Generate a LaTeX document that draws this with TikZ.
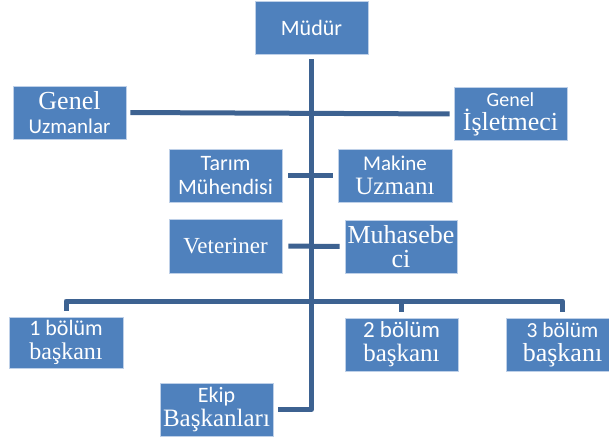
\documentclass[tikz,border=0pt]{standalone}
\usepackage{fontspec}
\usepackage{tikz}
\newfontfamily\calibrifont{Carlito}
\newfontfamily\timesfont{Liberation Serif}
\definecolor{boxblue}{RGB}{79,129,189}
\definecolor{lineblue}{RGB}{61,98,145}
\definecolor{boxedge}{RGB}{190,208,232}
\newcommand{\kal}[2][22]{{\calibrifont\fontsize{#1}{24}\selectfont #2}}
\newcommand{\tms}[2][25]{{\timesfont\fontsize{#1}{24}\selectfont #2}}

\begin{document}
\begin{tikzpicture}[x=1pt,y=-1pt,
	box/.style={draw=boxedge, line width=0.8pt, fill=boxblue, text=white,
		minimum width=113pt, minimum height=53pt, inner sep=0pt, align=center,
		font=\fontsize{22}{24}\selectfont},
	conn/.style={draw=lineblue, line width=5pt, line join=round}]
	\useasboundingbox (0,0) rectangle (609,442);

	\node (A) [box] at (311.5,27.5) {\kal{Müdür}};
	\node (B) [box] at (69.5,112.5) {\tms[26]{Genel}\\\kal[21]{Uzmanlar}};
	\node (C) [box] at (510.5,114) {\kal[20]{Genel}\\\tms[26]{İşletmeci}};
	\node (D) [box] at (225.5,175.5) {\kal{Tarım}\\\kal{Mühendisi}};
	\node (E) [box, minimum width=114pt] at (395,175.5) {\kal[21]{Makine}\\\tms{Uzmanı}};
	\node (F) [box, minimum height=54pt] at (225.5,246) {\tms[23]{Veteriner}};
	\node (G) [box, minimum width=112pt] at (401,246.5) {\tms[26]{Muhasebe}\\\tms[26]{ci}};
	\node (H) [box, minimum width=114pt, minimum height=51pt] at (66,342.5) {\kal{1 bölüm}\\\tms[24]{başkanı}};
	\node (I) [box] at (401.5,344.5) {\kal[23]{2 bölüm}\\\tms{başkanı}};
	\node (J) [box] at (562.5,344.5) {\kal[21.5]{3 bölüm}\\\tms[26]{başkanı}};
	\node (K) [box] at (216.5,409.5) {\kal{Ekip}\\\tms{Başkanları}};
	\coordinate (bus) at (311.5,301);

  \draw[conn, shorten <=5pt, shorten >=5pt] (A.south) |- (K.east);
  \path (B.east) edge [conn, shorten <=4pt, shorten >=4pt] (C.west);
  \path (D.east) edge [conn, shorten <=6pt, shorten >=5pt] (E.west);
  \path (F.east) edge [conn, shorten <=6pt, shorten >=5pt] (G.west);
  \draw[conn, shorten <=6pt, shorten >=6pt] (H.north) |- (bus) -| (J.north);
  \draw[conn, shorten >=6pt] (bus) -| (I.north);

\end{tikzpicture}
\end{document}
